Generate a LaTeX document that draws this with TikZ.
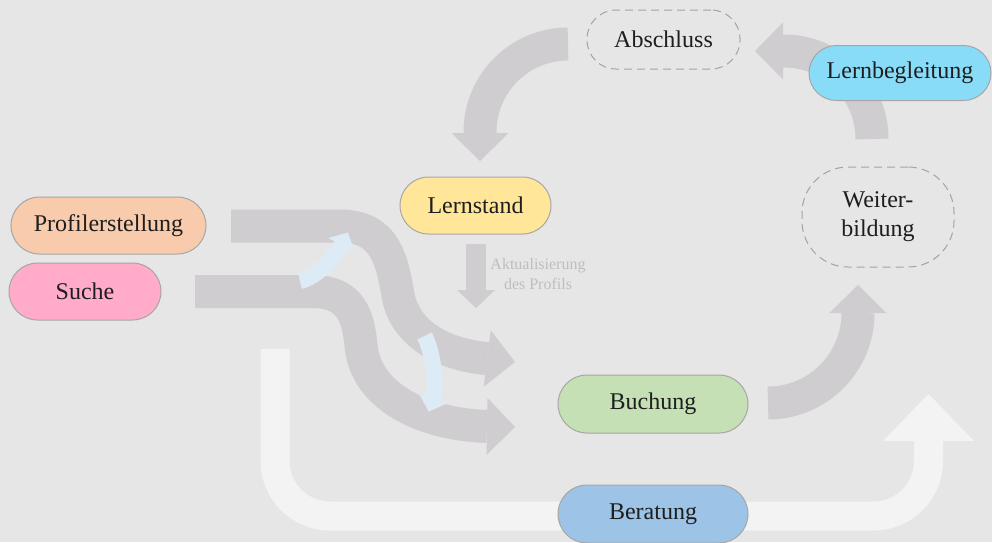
\documentclass[tikz,border=0pt]{standalone}
\usepackage{fontspec}
\setmainfont{Liberation Serif}
\newfontfamily\lserif{Liberation Serif}
\usetikzlibrary{arrows.meta}
\pgfdeclarelayer{back}
\pgfsetlayers{back,main}
\definecolor{bgc}{HTML}{E6E6E6}
\definecolor{arrgray}{HTML}{CFCDCF}
\definecolor{bandwhite}{HTML}{F3F3F3}
\definecolor{lightblue}{HTML}{DDEBF7}
\definecolor{bordergray}{HTML}{A6A6A6}
\definecolor{dashgray}{HTML}{A3A3A3}
\definecolor{txt}{HTML}{1E1E1E}
\definecolor{labelgray}{HTML}{BEBEBE}
\definecolor{cprof}{HTML}{F8CBAD}
\definecolor{csuche}{HTML}{FFABC9}
\definecolor{clern}{HTML}{FFE699}
\definecolor{clbeg}{HTML}{89DCF8}
\definecolor{cbuch}{HTML}{C5E0B4}
\definecolor{cberat}{HTML}{9DC3E6}
\tikzset{
  pill/.style={draw=bordergray, line width=1pt, rounded corners=28.5pt,
    minimum height=57pt, inner sep=0pt, text=txt,
    font=\lserif\fontsize{24}{29}\selectfont},
  dashpill/.style={draw=dashgray, line width=1pt, dash pattern=on 8pt off 5pt,
    inner sep=0pt, text=txt, align=center,
    font=\lserif\fontsize{24}{29}\selectfont},
  garrow/.style={draw=arrgray, line width=33pt, line cap=butt,
    -{Triangle[width=57pt,length=28pt,line width=0pt]}},
  smallarrow/.style={draw=arrgray, line width=20pt, line cap=butt,
    -{Triangle[width=38pt,length=18pt,line width=0pt]}},
  wband/.style={draw=bandwhite, line width=29pt, line cap=butt, rounded corners=55pt,
    -{Triangle[width=91pt,length=47pt,line width=0pt]}},
  barrow/.style={draw=lightblue, line width=16pt, line cap=butt,
    -{Triangle[width=30pt,length=14pt,line width=0pt]}},
  albl/.style={text=labelgray, align=center, inner sep=0pt,
    font=\lserif\fontsize{16}{20}\selectfont},
}
\begin{document}
\begin{tikzpicture}[x=1pt,y=1pt]
\useasboundingbox (0,0) rectangle (992,-542);

% nodes
\node[pill, fill=cprof, minimum width=195pt] (prof) at (108.5,-225.5) {Profilerstellung};
\node[pill, fill=csuche, minimum width=152pt] (suche) at (85,-291.5) {Suche};
\node[pill, fill=clern, minimum width=151pt] (lern) at (475.5,-205.5) {Lernstand};
\node[dashpill, rounded corners=29pt, minimum width=153pt, minimum height=59pt] (absch) at (663.5,-39.5) {Abschluss};
\node[pill, fill=clbeg, minimum width=182pt, minimum height=55pt, rounded corners=27.5pt] (lbeg) at (900,-73) {Lernbegleitung};
\node[dashpill, rounded corners=46pt, minimum width=152pt, minimum height=100pt] (weiter) at (878,-217) {Weiter-\\bildung};
\node[pill, fill=cbuch, minimum width=190pt, minimum height=58pt, rounded corners=29pt] (buch) at (653,-404) {Buchung};
\node[pill, fill=cberat, minimum width=190pt, minimum height=58pt, rounded corners=29pt] (berat) at (653,-514) {Beratung};

% connector end points
\coordinate (p1) at (231,-226);
\coordinate (p2) at (515,-362);
\coordinate (s1) at (195,-291.5);
\coordinate (s2) at (515,-427);
\coordinate (a1) at (568,-44);
\coordinate (b1) at (872,-139);
\coordinate (c1) at (768,-403);
\coordinate (l1) at (476,-244);
\coordinate (l2) at (476,-308);
\coordinate (w1) at (275,-349);
\coordinate (w2) at (928.5,-394);
\coordinate (u1) at (300,-281);
\coordinate (u2) at (348,-232.5);
\coordinate (d1) at (424.5,-336);
\coordinate (d2) at (428.7,-411.7);

\begin{pgfonlayer}{back}
\fill[bgc] (0,0) rectangle (992,-542);
% big white U arrow behind Beratung
\draw[wband] (w1) -- (275,-516) -- (928.5,-516) -- (w2);
% Profilerstellung -> Buchung
\draw[garrow] (p1) -- (340,-226) .. controls (385,-226) and (392,-260) .. (398,-295)
   .. controls (405,-335) and (445,-355) .. (487,-358.5) -- (p2);
% Suche -> Buchung
\draw[garrow] (s1) -- (312,-291.5) .. controls (350,-291.5) and (358,-315) .. (361,-345)
   .. controls (365,-395) and (420,-424) .. (487,-426.5) -- (s2);
% Abschluss -> Lernstand
\draw[garrow] (a1) arc[start angle=90, end angle=180, radius=88] -- ++(0,-29);
% Lernbegleitung -> Abschluss
\draw[garrow] (b1) arc[start angle=0, end angle=90, radius=88] -- ++(-29,0);
% Buchung -> Weiterbildung
\draw[garrow] (c1) arc[start angle=-90, end angle=0, radius=90] -- ++(0,28);
% Lernstand -> Aktualisierung
\draw[smallarrow] (l1) -- (l2);
% light blue switching arrows
\draw[barrow] (u1) .. controls (316,-278) and (336,-256) .. (341.5,-245) -- (u2);
\draw[barrow] (d1) .. controls (433,-352) and (437.3,-386) .. (433.5,-397.5) -- (d2);
\end{pgfonlayer}

\node[albl] (akt) at (538,-274) {Aktualisierung\\des Profils};
\end{tikzpicture}
\end{document}
